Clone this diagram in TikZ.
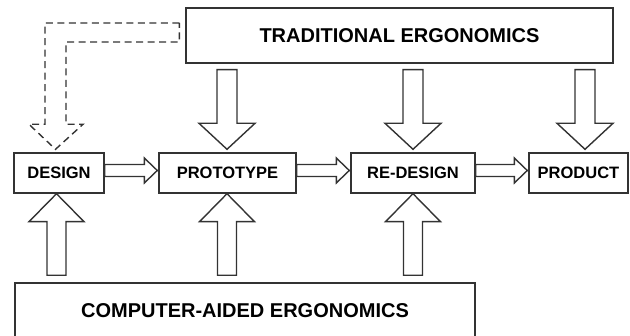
\documentclass[tikz,border=0pt]{standalone}
\usepackage{fontspec}
\setmainfont{Liberation Sans}
\usetikzlibrary{calc}
\tikzset{
  box/.style={draw=black!80, line width=1.4pt, fill=white, inner sep=0pt,
    font=\bfseries\fontsize{16.5}{18}\selectfont},
  bigbox/.style={box, font=\bfseries\fontsize{20}{22}\selectfont},
  blk/.style={draw=black!80, line width=1.4pt, fill=white, line join=miter},
  dblk/.style={draw=black!80, line width=1.4pt, dash pattern=on 7pt off 4.5pt},
}
% block arrow from #1 to #2; shaft half width #3, head half width #4, head length #5
\newcommand\blkarrow[5]{%
  \draw[blk] let \p1=(#1), \p2=(#2),
    \n1={atan2(\y2-\y1,\x2-\x1)}, \n2={veclen(\x2-\x1,\y2-\y1)} in
    [shift={(\p1)}, rotate=\n1]
    (0,-#3) -- ({\n2-#5},-#3) -- ({\n2-#5},-#4) -- (\n2,0)
    -- ({\n2-#5},#4) -- ({\n2-#5},#3) -- (0,#3) -- cycle;}
\begin{document}
\begin{tikzpicture}[x=1pt, y=-1pt]
\useasboundingbox (0,0) rectangle (630,336);
\clip (0,0) rectangle (630,336);

\node[bigbox, minimum width=427pt, minimum height=55pt] (trad) at (399.5,35.5) {TRADITIONAL ERGONOMICS};
\node[box, minimum width=90pt, minimum height=40pt] (design) at (59,173) {DESIGN};
\node[box, minimum width=137pt, minimum height=40pt] (proto) at (227.5,173) {PROTOTYPE};
\node[box, minimum width=124pt, minimum height=40pt] (redesign) at (413,173) {RE-DESIGN};
\node[box, minimum width=99pt, minimum height=40pt] (product) at (578.5,173) {PRODUCT};
\node[bigbox, minimum width=460pt, minimum height=60pt] (cae) at (245,313) {\raisebox{4pt}{COMPUTER-AIDED ERGONOMICS}};

% down arrows from traditional ergonomics
\coordinate (tp1) at ($(proto.north |- trad.south)+(-0.5,6)$);
\coordinate (tp2) at ($(proto.north)+(-0.5,-3)$);
\blkarrow{tp1}{tp2}{10}{28}{26}
\coordinate (tr1) at ($(redesign.north |- trad.south)+(0,6)$);
\coordinate (tr2) at ($(redesign.north)+(0,-3)$);
\blkarrow{tr1}{tr2}{10}{28}{26}
\coordinate (tq1) at ($(product.north |- trad.south)+(6.5,6)$);
\coordinate (tq2) at ($(product.north)+(6.5,-3)$);
\blkarrow{tq1}{tq2}{10}{28}{26}

% up arrows from computer-aided ergonomics
\coordinate (cd1) at ($(design.south |- cae.north)+(-2.5,-7)$);
\coordinate (cd2) at ($(design.south)+(-2.5,0)$);
\blkarrow{cd1}{cd2}{9.5}{27.5}{28}
\coordinate (cp1) at ($(proto.south |- cae.north)+(-0.5,-7)$);
\coordinate (cp2) at ($(proto.south)+(-0.5,0)$);
\blkarrow{cp1}{cp2}{9.5}{27.5}{28}
\coordinate (cr1) at ($(redesign.south |- cae.north)+(0,-7)$);
\coordinate (cr2) at ($(redesign.south)+(0,0)$);
\blkarrow{cr1}{cr2}{9.5}{27.5}{28}

% horizontal process arrows
\coordinate (h11) at ($(design.east)+(0,-2.5)$);
\coordinate (h12) at ($(proto.west)+(-1,-2.5)$);
\blkarrow{h11}{h12}{6}{12.5}{13}
\coordinate (h21) at ($(proto.east)+(0,-2.5)$);
\coordinate (h22) at ($(redesign.west)+(-1,-2.5)$);
\blkarrow{h21}{h22}{6}{12.5}{13}
\coordinate (h31) at ($(redesign.east)+(0,-2.5)$);
\coordinate (h32) at ($(product.west)+(-1,-2.5)$);
\blkarrow{h31}{h32}{6}{12.5}{13}

% dashed feedback arrow
\coordinate (d1) at ($(trad.west)+(-6,-12.5)$);
\coordinate (d2) at ($(trad.west)+(-6,6.5)$);
\coordinate (dt) at ($(design.north)+(-3.5,-3)$);
\draw[dblk] (d1) -- ($(d1 -| dt)+(-10.5,0)$) -- ($(dt)+(-10.5,-25)$)
  -- ($(dt)+(-26.5,-25)$) -- (dt) -- ($(dt)+(27.5,-25)$)
  -- ($(dt)+(10.5,-25)$) -- ($(d2 -| dt)+(10.5,0)$) -- (d2) -- cycle;
\end{tikzpicture}
\end{document}
